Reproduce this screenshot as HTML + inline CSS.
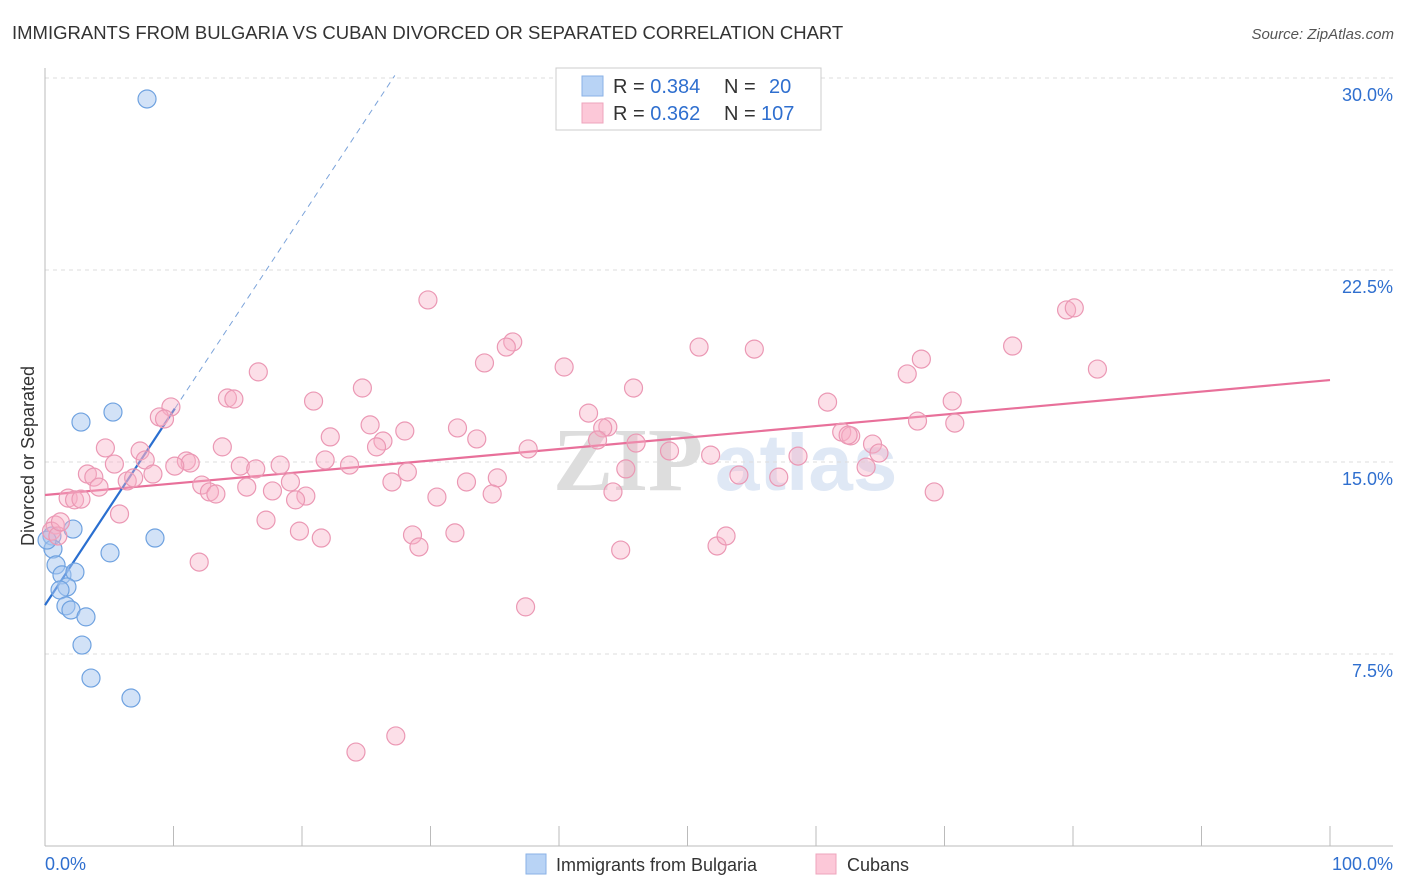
<!DOCTYPE html>
<html><head><meta charset="utf-8"><style>
body{margin:0;background:#fff;font-family:"Liberation Sans",sans-serif}
svg{display:block}
</style></head><body>
<svg id="chart" width="1406" height="892" xmlns="http://www.w3.org/2000/svg" font-family="Liberation Sans, sans-serif">
<text x="12" y="39" font-size="18.5" fill="#333">IMMIGRANTS FROM BULGARIA VS CUBAN DIVORCED OR SEPARATED CORRELATION CHART</text>
<text x="1394" y="39" font-size="15" fill="#555" text-anchor="end" font-style="italic">Source: ZipAtlas.com</text>
<g><text x="553" y="490" font-size="90" fill="#ddd" font-family="Liberation Serif, serif" font-weight="bold">ZIP</text><text x="715" y="490" font-size="80" fill="#dfe8f5" font-weight="bold">atlas</text></g>
<g id="grid"></g>
<g id="axes"></g>
<text transform="translate(34,456) rotate(-90)" font-size="18" fill="#333" text-anchor="middle">Divorced or Separated</text>
<g id="trend"></g>
<g id="points"></g>
<g>
<rect x="556" y="68" width="265" height="62" fill="#fff" stroke="#ccc"/>
<rect x="582" y="76" width="21" height="20" fill="#b8d3f5" stroke="#8ab2e6"/>
<rect x="582" y="103" width="21" height="20" fill="#fcc8d8" stroke="#eea4bc"/>
<text x="613" y="93" font-size="20" fill="#333">R = <tspan fill="#2f6fcf">0.384</tspan><tspan x="724">N = </tspan><tspan x="769" fill="#2f6fcf">20</tspan></text>
<text x="613" y="120" font-size="20" fill="#333">R = <tspan fill="#2f6fcf">0.362</tspan><tspan x="724">N = </tspan><tspan x="761" fill="#2f6fcf">107</tspan></text>
</g>
<g>
<rect x="526" y="854" width="20" height="20" fill="#b8d3f5" stroke="#8ab2e6"/>
<text x="556" y="871" font-size="18" fill="#333">Immigrants from Bulgaria</text>
<rect x="816" y="854" width="20" height="20" fill="#fcc8d8" stroke="#eea4bc"/>
<text x="847" y="871" font-size="18" fill="#333">Cubans</text>
</g>
</svg>
<script>
const yTicks=[7.5,15,22.5,30];
const yTickLabels=["7.5%","15.0%","22.5%","30.0%"];
const xTicks=[0,10,20,30,40,50,60,70,80,90,100];
const xEndLabels=["0.0%","100.0%"];
const bulgX=[7.94,5.29,2.80,2.18,0.54,0.62,5.06,8.56,0.86,1.32,2.33,1.71,1.17,1.63,2.02,3.19,2.88,3.58,6.69,0.16];
const bulgY=[29.18,16.95,16.56,12.38,12.11,11.60,11.45,12.03,10.98,10.59,10.70,10.12,10.0,9.38,9.22,8.95,7.85,6.56,5.78,11.95];
const cubX=[29.8,79.5,80.1,81.9,75.3,68.2,67.1,55.2,50.9,36.4,35.9,34.2,40.4,24.7,45.8,16.6,14.2,14.7,20.9,9.8,8.9,9.3,60.9,70.6,67.9,70.8,42.3,43.8,43.4,43.0,46.0,25.3,28.0,32.1,33.6,37.6,26.3,25.8,22.2,4.7,7.4,7.8,13.8,11.0,11.3,10.1,5.4,3.3,3.8,4.2,6.4,6.9,8.4,15.2,16.4,18.3,21.8,23.7,28.2,27.0,30.5,32.8,35.2,34.8,45.2,48.6,51.8,54.0,57.1,58.6,62.0,62.7,62.5,64.4,64.9,63.9,69.2,44.2,12.2,12.8,13.3,15.7,17.7,19.1,20.3,19.5,1.8,2.3,2.8,5.8,17.2,19.8,21.5,28.6,29.1,31.9,12.0,44.8,52.3,53.0,37.4,24.2,27.3,0.8,0.5,1.0,1.2];
const cubY=[21.33,20.94,21.02,18.63,19.53,19.02,18.44,19.41,19.49,19.69,19.49,18.87,18.71,17.89,17.89,18.52,17.50,17.46,17.38,17.15,16.76,16.68,17.34,17.38,16.60,16.52,16.91,16.37,16.33,15.86,15.74,16.45,16.21,16.33,15.90,15.51,15.82,15.59,15.98,15.55,15.43,15.08,15.59,15.04,14.96,14.84,14.92,14.53,14.41,14.02,14.26,14.38,14.53,14.84,14.73,14.88,15.08,14.88,14.61,14.22,13.63,14.22,14.38,13.75,14.73,15.43,15.27,14.49,14.41,15.23,16.17,16.02,16.05,15.70,15.35,14.80,13.83,13.83,14.10,13.83,13.75,14.02,13.87,14.22,13.67,13.52,13.59,13.52,13.55,12.97,12.73,12.30,12.03,12.15,11.68,12.23,11.09,11.56,11.72,12.11,9.34,3.67,4.30,12.54,12.30,12.11,12.66];
const bulgTrend=[9.41,0.76];
const cubTrend=[13.71,0.0449];
const X=v=>45+v*12.85, Y=v=>846-v*25.6;
const NS="http://www.w3.org/2000/svg";
function mk(tag,attrs,parent){const e=document.createElementNS(NS,tag);for(const k in attrs)e.setAttribute(k,attrs[k]);document.getElementById(parent).appendChild(e);return e;}
yTicks.forEach((t,i)=>{
 const l=mk('line',{x1:45,x2:1393,y1:Y(t),y2:Y(t),stroke:'#ddd','stroke-dasharray':'4,4'},'grid');
 
 
 const tx=mk('text',{x:1393,y:Y(t)+23,'font-size':18,fill:'#2f6fcf','text-anchor':'end'},'grid');
 tx.textContent=yTickLabels[i];
 
 
});
const ax=mk('line',{x1:45,x2:45,y1:68,y2:846,stroke:'#bbb'},'axes');


const bx=mk('line',{x1:45,x2:1393,y1:846,y2:846,stroke:'#bbb'},'axes');


xTicks.forEach(t=>{
 const l=mk('line',{x1:X(t),x2:X(t),y1:826,y2:846,stroke:'#bbb'},'axes');
 
 
});
[[0,'start'],[100,'end']].forEach((p,i)=>{
 const tx=mk('text',{x:X(p[0])+(i?63:0),y:870,'font-size':18,fill:'#2f6fcf','text-anchor':p[1]},'axes');
 tx.textContent=xEndLabels[i];
 
 
});
bulgX.forEach((x,i)=>{
 const c=mk('circle',{cx:X(x),cy:Y(bulgY[i]),r:9,fill:'rgba(165,198,240,0.5)',stroke:'#6fa2e0','stroke-width':1.2},'points');
 
 
});
cubX.forEach((x,i)=>{
 const c=mk('circle',{cx:X(x),cy:Y(cubY[i]),r:9,fill:'rgba(247,175,198,0.4)',stroke:'#eb98b4','stroke-width':1.2},'points');
 
 
});
const cl=mk('line',{x1:X(0),y1:Y(cubTrend[0]),x2:X(100),y2:Y(cubTrend[0]+cubTrend[1]*100),stroke:'#e8709a','stroke-width':2.2},'trend');


const bEnd=10.1, dEnd=(30.1-bulgTrend[0])/bulgTrend[1];
const bl=mk('line',{x1:X(0),y1:Y(bulgTrend[0]),x2:X(bEnd),y2:Y(bulgTrend[0]+bulgTrend[1]*bEnd),stroke:'#2a6fd0','stroke-width':2.2},'trend');


const bd=mk('line',{x1:X(bEnd),y1:Y(bulgTrend[0]+bulgTrend[1]*bEnd),x2:X(dEnd),y2:Y(30.1),stroke:'#7ba3da','stroke-width':1,'stroke-dasharray':'6,5'},'trend');


</script>
</body></html>
